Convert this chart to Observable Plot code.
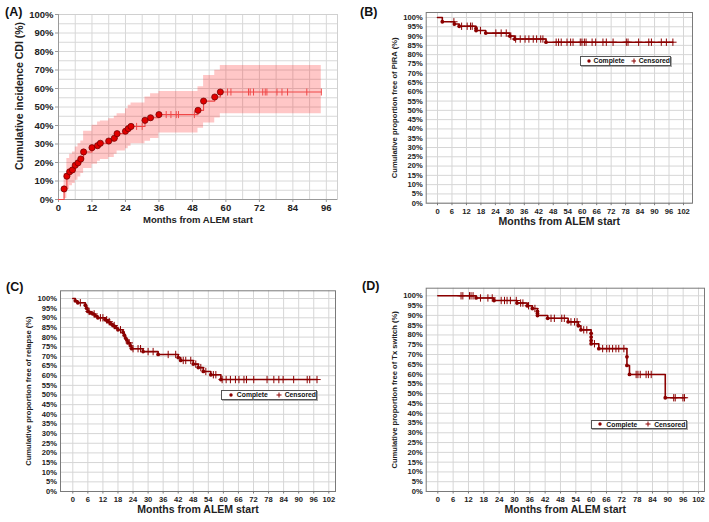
<!DOCTYPE html>
<html><head><meta charset="utf-8">
<script src="https://cdn.jsdelivr.net/npm/d3@7"></script>
<script src="https://cdn.jsdelivr.net/npm/@observablehq/plot@0.6"></script>
<style>
body{margin:0;background:#fff;}
#root{position:relative;width:709px;height:522px;overflow:hidden;font-family:"Liberation Sans",Arial,sans-serif;background:#fff;}
.panel{position:absolute;}
.plab{position:absolute;font-weight:bold;font-size:12.5px;color:#111;line-height:1;}
.legend{position:absolute;box-sizing:border-box;border:1px solid #555;box-shadow:1px 1px 0 #aaa;background:#fff;display:flex;align-items:center;font-size:6.8px;font-weight:bold;color:#111;white-space:nowrap;}
.legend svg{display:block;}
</style></head><body><div id="root"></div>
<script>
// ---------- Panel A: cumulative incidence CDI ----------
const aMonths = [0, 2, 3, 4, 5, 6, 7, 8, 9, 12, 14, 15, 18, 20, 21, 24, 25, 26, 31, 33, 36, 50, 52, 56, 58];
const aCDI    = [0, 5.7, 12.6, 15, 16, 18.5, 19.8, 21.9, 25.7, 28, 29.1, 30.4, 31.6, 33.1, 35.6, 36.9, 38.3, 39.5, 42.8, 44.2, 45.9, 48.2, 53.2, 55.4, 58.1];
const aLower  = [0, 0.5, 5.4, 7.5, 8.6, 10.4, 12.2, 14, 16.7, 19, 20.7, 21.6, 22.7, 24.4, 26.2, 27.5, 28.8, 30.2, 31.5, 33, 36, 38.5, 41.3, 44, 46.4];
const aUpper  = [0, 14, 22.1, 24.4, 25.7, 28.4, 30.2, 31.6, 36.9, 40.1, 41.9, 42.5, 43.7, 45, 46.4, 49.1, 50.9, 52.1, 55.4, 57.2, 58.4, 61, 67, 69.8, 72.5];
const aCensor = [28, 30, 38.6, 40.3, 42.2, 43, 48.7, 60.6, 61.8, 68.1, 68.7, 69.9, 73.2, 74.1, 74.7, 78.3, 80.1, 82.1, 89, 94.2];
const aXTicks = [0, 12, 24, 36, 48, 60, 72, 84, 96];
const aYTicks = [0, 10, 20, 30, 40, 50, 60, 70, 80, 90, 100];

// ---------- Panel B: free of PIRA ----------
const bMonths = [0, 2, 7, 9, 16, 16, 20, 30, 32, 45];
const bSurv   = [100, 97.7, 96.5, 95.3, 94.2, 93.0, 91.6, 90.0, 88.4, 86.7];
const bCensor = [6.8, 10, 12.3, 13.7, 14.4, 17.8, 24.2, 26.4, 28.5, 30.4, 32.4, 34.3, 36.3, 37.9, 39.7, 41.1, 42.8, 43.7, 49.2, 50.2, 51.3, 53.7, 55.2, 56.2, 59.2, 59.9, 60.9, 61.6, 64.1, 65.6, 68.6, 70, 72.8, 78.3, 79, 83.4, 87.6, 88.7, 92.8, 94.9, 97.6];

// ---------- Panel C: free of relapse ----------
const cMonths = [0, 1, 2, 5, 5.5, 6, 7, 8, 9, 10, 13, 14, 15, 16, 17, 18, 20, 20.5, 21, 21.5, 22, 23, 23.5, 28, 34, 42, 43, 48, 50, 52, 55, 59];
const cSurv   = [100, 98.8, 97.8, 96.5, 95, 93.3, 92.5, 92, 91, 90, 89, 88, 87, 86, 85, 83.8, 82.5, 81, 79.5, 78.5, 77, 75.5, 74, 72.5, 71, 69.4, 67.9, 66, 64.2, 62.2, 60.5, 58];
const cCensor = [3, 6.5, 8.5, 11, 12, 13.5, 14.5, 16.5, 19, 22.5, 24, 26, 27, 30, 32, 38, 41, 44, 45, 47, 49, 51, 53, 56, 57, 59.5, 61.1, 62.8, 64.8, 66.2, 68.2, 69.2, 72.1, 77.4, 80.1, 82.1, 83.8, 88, 93.4, 94.4, 97.3];

// ---------- Panel D: free of Tx switch ----------
const dMonths = [0, 15, 22, 31, 35, 37, 39, 39, 39, 43, 51, 55, 56, 60, 60, 60, 60, 63, 74, 74, 75, 89];
const dSurv   = [100, 98.9, 97.6, 96.3, 94.9, 93.5, 92, 90.9, 89.9, 88.5, 86.7, 84.7, 82.6, 80.8, 78.9, 77.1, 75.5, 73, 68.8, 64.4, 59.8, 47.9];
const dCensor = [9.1, 9.8, 12.4, 13, 13.8, 16.7, 19.6, 21.3, 24.8, 26.1, 27.1, 28.4, 30.7, 32.4, 33.3, 35.5, 38, 44.3, 45.6, 48.5, 49.5, 52.1, 53.5, 54.5, 57.1, 58.3, 61.3, 64.5, 66.1, 67.1, 68.4, 69.7, 70.8, 72.8, 77.6, 78.3, 79.2, 81.5, 82.4, 83.5, 92.3, 92.9, 95.9, 96.5];

const kmXTicks = [0, 6, 12, 18, 24, 30, 36, 42, 48, 54, 60, 66, 72, 78, 84, 90, 96, 102];
const kmYTicks = [0, 5, 10, 15, 20, 25, 30, 35, 40, 45, 50, 55, 60, 65, 70, 75, 80, 85, 90, 95, 100];
const xTitle = "Months from ALEM start";

const FONT = '"Liberation Sans", Arial, sans-serif';
const root = document.getElementById("root");

function stepAt(t, ms, vs) {
  let v = vs[0];
  for (let i = 0; i < ms.length; i++) if (ms[i] <= t) v = vs[i];
  return v;
}
const vbar = {draw(ctx, size) { const h = Math.sqrt(size) * 0.9; ctx.moveTo(0, -h); ctx.lineTo(0, h); }};

function place(el, left, top) {
  el.style.position = "absolute"; el.style.left = left + "px"; el.style.top = top + "px";
  root.appendChild(el);
}
function label(txt, left, top) {
  const d = document.createElement("div"); d.className = "plab"; d.textContent = txt;
  d.style.left = left + "px"; d.style.top = top + "px"; root.appendChild(d);
}

// ----- Panel A -----
{
  const pts = aMonths.map((m, i) => ({m, v: aCDI[i], lo: aLower[i], hi: aUpper[i]}));
  const end = d3.max(aCensor);
  const last = pts[pts.length - 1];
  const linePts = [...pts, {m: end, v: last.v, lo: last.lo, hi: last.hi}];
  const band = linePts.slice(1);
  const events = pts.slice(1);
  const cens = aCensor.map(m => ({m, v: stepAt(m, aMonths, aCDI)}));
  const p = Plot.plot({
    width: 354, height: 261, marginLeft: 58, marginRight: 17, marginTop: 14, marginBottom: 62,
    x: {domain: [0, 100], label: null}, y: {domain: [0, 100], label: null},
    style: {fontFamily: FONT, fontSize: "9.5px", fontWeight: "bold", color: "#222", background: "white", overflow: "visible"},
    marks: [
      Plot.gridX(d3.range(0, 97, 6), {stroke: "#d8d8d8", strokeOpacity: 1}),
      Plot.gridY(d3.range(0, 101, 5), {stroke: "#d8d8d8", strokeOpacity: 1}),
      Plot.frame({stroke: "#d0d0d0"}),
      Plot.areaY(band, {x: "m", y1: "lo", y2: "hi", curve: "step-after", fill: "#ff0000", fillOpacity: 0.22}),
      Plot.ruleX([0], {stroke: "#9a9a9a"}),
      Plot.ruleY([0], {stroke: "#9a9a9a"}),
      Plot.axisX(aXTicks, {tickSize: 3, tickPadding: 2, label: null, stroke: "#9a9a9a"}),
      Plot.axisY(aYTicks, {tickSize: 3, tickPadding: 2, label: null, tickFormat: d => d + "%", stroke: "#9a9a9a"}),
      Plot.line(linePts, {x: "m", y: "v", curve: "step-after", stroke: "#f04848", strokeWidth: 1.1}),
      Plot.dot(cens, {x: "m", y: "v", symbol: vbar, r: 2.2, stroke: "#f04848", strokeWidth: 1}),
      Plot.dot(events, {x: "m", y: "v", r: 3.1, fill: "#e00000", stroke: "#6a0000", strokeWidth: 0.7}),
      Plot.text([xTitle], {frameAnchor: "bottom", dy: 23.5, textAnchor: "middle", fontSize: 9.5, fontWeight: "bold", fill: "#222"}),
      Plot.text(["Cumulative incidence CDI (%)"], {frameAnchor: "left", textAnchor: "middle", rotate: -90, dx: -39, dy: -11, fontSize: 10.5, fontWeight: "bold", fill: "#222"})
    ]
  });
  place(p, 0, 0);
  label("(A)", 5, 6);
}

function kmPanel(cfg) {
  const {months, surv, censor, ylabel, left, top, w, h, frame, zero, xPer, yTop100} = cfg;
  // frame: [x0, x1, y0(top), y1(bottom)] in page px, zero: page x of month 0, xPer: px per month
  const xDom = [(frame[0] - zero) / xPer, (frame[1] - zero) / xPer];
  const yPer = (frame[3] - yTop100) / 100;
  const yDom = [0, (frame[3] - frame[2]) / yPer];
  const pts = months.map((m, i) => ({m, v: surv[i]}));
  const end = d3.max(censor);
  const linePts = [...pts, {m: end, v: pts[pts.length - 1].v}];
  const events = pts.slice(1);
  const cens = censor.map(m => ({m, v: stepAt(m, months, surv)}));
  const p = Plot.plot({
    width: w, height: h,
    marginLeft: frame[0] - left, marginRight: left + w - frame[1],
    marginTop: frame[2] - top, marginBottom: top + h - frame[3],
    x: {domain: xDom, label: null}, y: {domain: yDom, label: null},
    style: {fontFamily: FONT, fontSize: "7.6px", fontWeight: "bold", color: "#222", background: "white", overflow: "visible"},
    marks: [
      Plot.gridX(kmXTicks, {stroke: "#d6d6d6", strokeOpacity: 1}),
      Plot.gridY(kmYTicks, {stroke: "#d6d6d6", strokeOpacity: 1}),
      Plot.frame({stroke: "#7a7a7a"}),
      Plot.axisX(kmXTicks, {tickSize: 2.5, tickPadding: 3, label: null, stroke: "#7a7a7a"}),
      Plot.axisY(kmYTicks, {tickSize: 0, tickPadding: 3.5, label: null, tickFormat: d => d + "%"}),
      Plot.line(linePts, {x: "m", y: "v", curve: "step-after", stroke: "#8b0000", strokeWidth: 1.6}),
      Plot.dot(cens, {x: "m", y: "v", symbol: "plus", r: 2.5, stroke: "#8b0000", strokeWidth: 1}),
      Plot.dot(events, {x: "m", y: "v", r: 1.9, fill: "#8b0000"}),
      Plot.text([xTitle], {frameAnchor: "bottom", dy: 21.5, textAnchor: "middle", fontSize: 10.5, fontWeight: "bold", fill: "#222"}),
      Plot.text([ylabel], {frameAnchor: "left", textAnchor: "middle", rotate: -90, dx: -32, fontSize: 7.6, fontWeight: "bold", fill: "#222"})
    ]
  });
  place(p, left, top);
}

function legend(left, top, w, h) {
  const d = document.createElement("div"); d.className = "legend";
  d.style.left = left + "px"; d.style.top = top + "px"; d.style.width = w + "px"; d.style.height = h + "px";
  d.innerHTML =
    '<span style="width:6px"></span><svg width="6" height="6"><circle cx="3" cy="3" r="1.7" fill="#8b0000"/></svg>' +
    '<span style="margin-left:3px">Complete</span><span style="width:8px"></span>' +
    '<svg width="6" height="6"><path d="M3,0.5V5.5M0.5,3H5.5" stroke="#8b0000" stroke-width="1"/></svg>' +
    '<span style="margin-left:3px">Censored</span>';
  root.appendChild(d);
}

kmPanel({months: bMonths, surv: bSurv, censor: bCensor, ylabel: "Cumulative proportion free of PIRA (%)",
  left: 354, top: 0, w: 355, h: 261, frame: [425.7, 692, 12, 202.7], zero: 437, xPer: 246 / 102, yTop100: 17});
legend(580, 56, 91, 9.5);
label("(B)", 360, 6);

kmPanel({months: cMonths, surv: cSurv, censor: cCensor, ylabel: "Cumulative proportion free of relapse (%)",
  left: 0, top: 261, w: 354, h: 261, frame: [60, 335, 290.3, 491], zero: 72.3, xPer: 256 / 102, yTop100: 298});
legend(221, 389.5, 96, 10);
label("(C)", 6, 281);

kmPanel({months: dMonths, surv: dSurv, censor: dCensor, ylabel: "Cumulative proportion free of Tx switch (%)",
  left: 354, top: 261, w: 355, h: 261, frame: [425.7, 704, 287.7, 491], zero: 437.3, xPer: 260.7 / 102, yTop100: 295.3});
legend(590.5, 419.5, 96, 9.5);
label("(D)", 362, 280);
</script></body></html>
